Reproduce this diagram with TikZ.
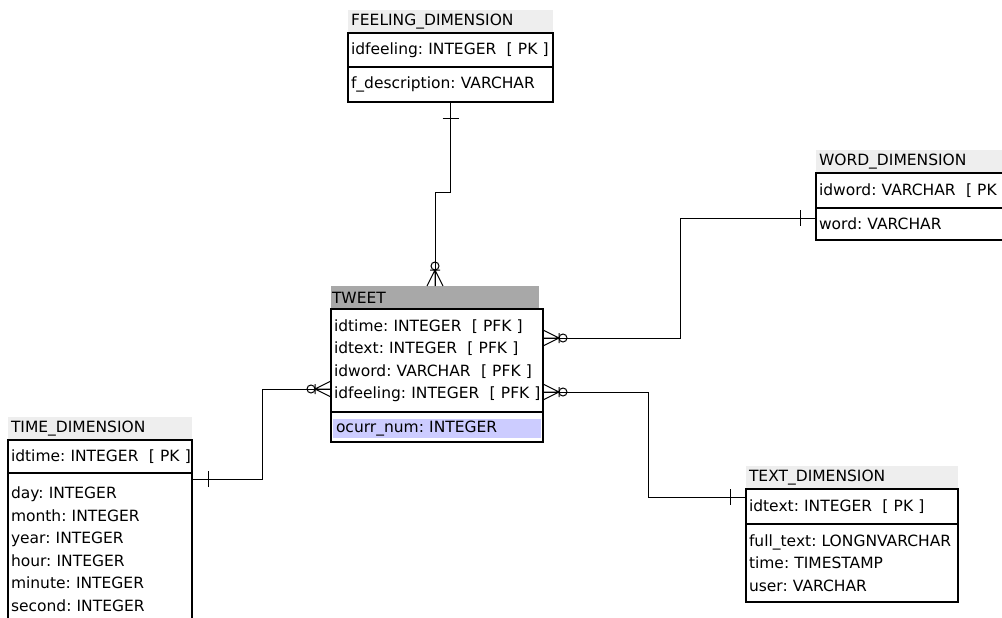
\documentclass[tikz,border=0pt]{standalone}
\usepackage{fontspec}
\setmainfont{DejaVu Sans}
\usetikzlibrary{positioning}
\frenchspacing

\definecolor{hdrgray}{RGB}{238,238,238}
\definecolor{facthdr}{RGB}{168,168,168}
\definecolor{selblue}{RGB}{204,204,255}
\newcommand{\entfont}{\fontsize{15.5}{22.5}\selectfont}

\tikzset{
    entity/.style = {rectangle, anchor=north west, outer sep=0pt, inner xsep=3pt,
                     inner ysep=0pt, text width=#1, align=left, font=\entfont},
    header/.style = {entity=#1, fill=hdrgray, minimum height=23pt},
    keybox/.style = {entity=#1, draw, line width=1.1pt},
    selrow/.style = {entity=#1, anchor=north, fill=selblue, minimum height=19pt},
    manyzero/.pic = {
        \draw (0,8) -- (16,0) -- (0,-8) (0,0) -- (16,0) (16,5) -- (16,-5);
        \draw (20,0) circle[radius=4pt];
    },
    onebar/.pic = {\draw (16,8) -- (16,-8);},
}

\begin{document}
\begin{tikzpicture}[x=1pt, y=-1pt, line width=1pt]
\useasboundingbox (0,0) rectangle (1002,618);
\clip (0,0) rectangle (1002,618);

% dimension tables
\node[header=199pt] (feel-h) at (348,10) {FEELING\_DIMENSION};
\node[keybox=199pt, minimum height=34pt, below right=0pt and 0pt of feel-h.south west] (feel-k) {\mbox{idfeeling: INTEGER\ \ [ PK ]}};
\node[keybox=199pt, minimum height=35pt, below right=0pt and 0pt of feel-k.south west] (feel-a) {f\_description: VARCHAR};

\node[header=206pt] (word-h) at (816,150) {WORD\_DIMENSION};
\node[keybox=206pt, minimum height=35pt, below right=0pt and 0pt of word-h.south west] (word-k) {\mbox{idword: VARCHAR\ \ [ PK ]}};
\node[keybox=206pt, minimum height=32pt, below right=0pt and 0pt of word-k.south west] (word-a) {word: VARCHAR};

\node[header=178pt] (time-h) at (8,417) {TIME\_DIMENSION};
\node[keybox=178pt, minimum height=33pt, below right=0pt and 0pt of time-h.south west] (time-k) {\mbox{idtime: INTEGER\ \ [ PK ]}};
\node[keybox=178pt, minimum height=152pt, below right=0pt and 0pt of time-k.south west] (time-a) {day: INTEGER\\month: INTEGER\\year: INTEGER\\hour: INTEGER\\minute: INTEGER\\second: INTEGER};

\node[header=206pt] (text-h) at (746,466) {TEXT\_DIMENSION};
\node[keybox=206pt, minimum height=35pt, below right=0pt and 0pt of text-h.south west] (text-k) {\mbox{idtext: INTEGER\ \ [ PK ]}};
\node[keybox=206pt, minimum height=78pt, below right=0pt and 0pt of text-k.south west] (text-a) {\mbox{full\_text: LONGNVARCHAR}\\time: TIMESTAMP\\user: VARCHAR};

% fact table
\node[header=206pt, fill=facthdr, inner xsep=1pt] (tweet-h) at (331,286) {TWEET};
\node[keybox=206pt, minimum height=103pt, below right=0pt and 0pt of tweet-h.south west] (tweet-k) {idtime: INTEGER\ \ [ PFK ]\\idtext: INTEGER\ \ [ PFK ]\\idword: VARCHAR\ \ [ PFK ]\\\mbox{idfeeling: INTEGER\ \ [ PFK ]}};
\node[keybox=206pt, minimum height=30pt, below right=0pt and 0pt of tweet-k.south west] (tweet-a) {};
\node[selrow=202pt] (tweet-sel) at ([yshift=-7pt]tweet-a.north) {ocurr\_num: INTEGER};

% relationships
\draw (feel-a.south) -- ++(0,90) -| (tweet-h.north);
\draw ([yshift=-29pt]tweet-k.north east) -- ++(137,0) |- ([yshift=-10pt]word-a.north west);
\draw ([yshift=-83pt]tweet-k.north east) -- ++(105,0) |- ([yshift=-8pt]text-k.north west);
\draw ([yshift=-80pt]tweet-k.north west) -- ++(-69,0) |- ([yshift=-6pt]time-a.north east);

\pic[rotate=90] at (tweet-h.north) {manyzero};
\pic at ([yshift=-29pt]tweet-k.north east) {manyzero};
\pic at ([yshift=-83pt]tweet-k.north east) {manyzero};
\pic[rotate=180] at ([yshift=-80pt]tweet-k.north west) {manyzero};
\pic[rotate=-90] at (feel-a.south) {onebar};
\pic[rotate=180] at ([yshift=-10pt]word-a.north west) {onebar};
\pic[rotate=180] at ([yshift=-8pt]text-k.north west) {onebar};
\pic at ([yshift=-6pt]time-a.north east) {onebar};
\end{tikzpicture}
\end{document}
